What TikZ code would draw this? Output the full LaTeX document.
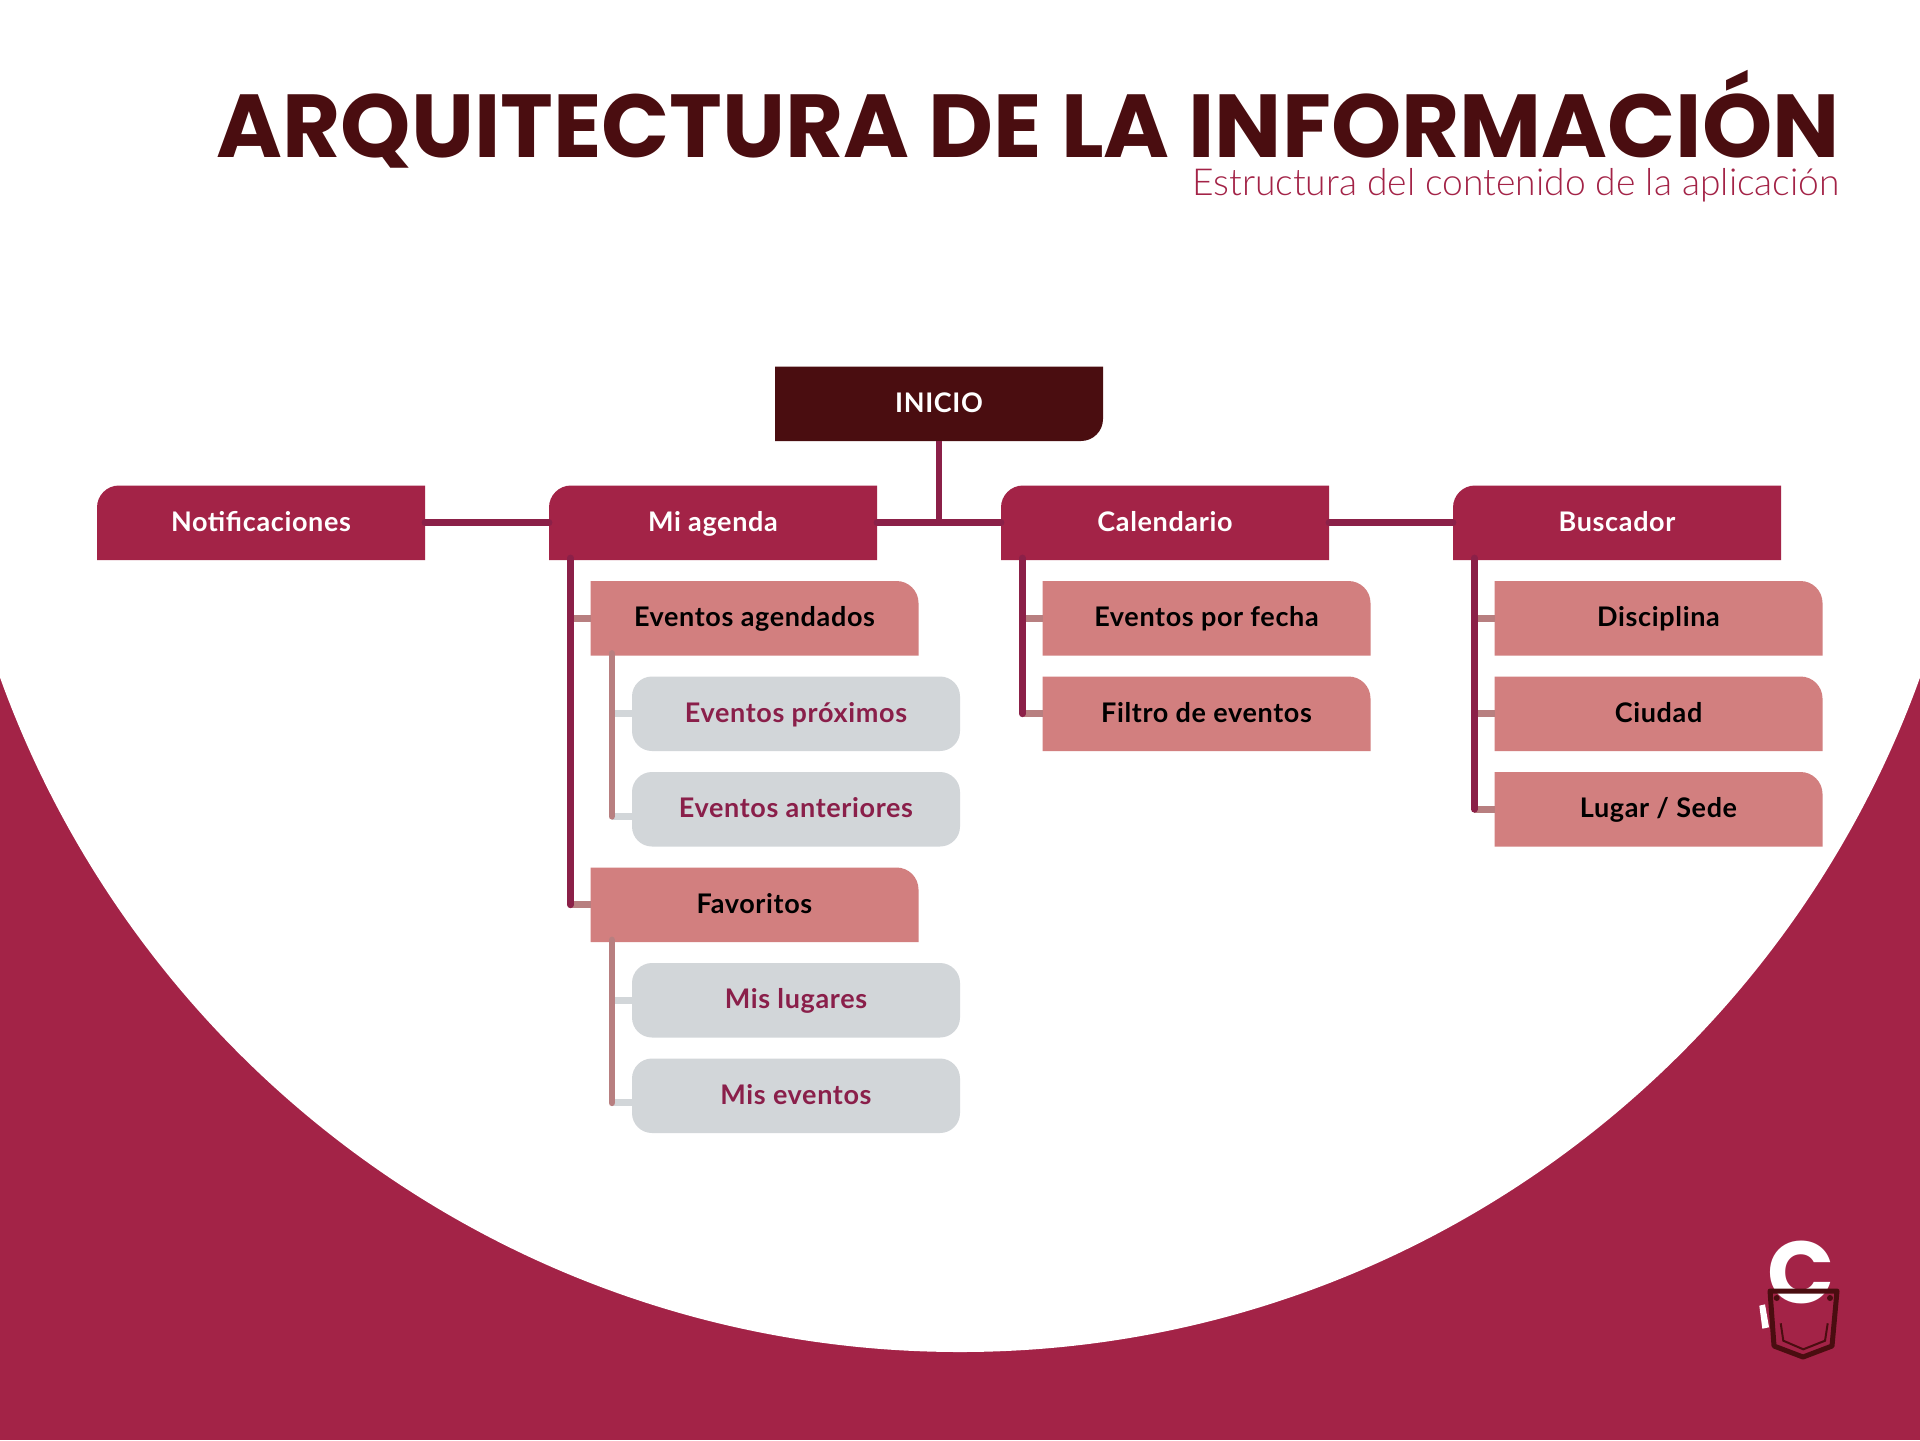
\documentclass[tikz,border=0pt]{standalone}
\usepackage{fontspec}
\setmainfont{Lato}[LetterSpace=2.4]
\newfontfamily\titlefont{Poppins}
\newfontfamily\subfont{Lato Light}
\usepackage{xcolor}
\usetikzlibrary{positioning,calc}
\definecolor{crimson}{HTML}{A32347}
\definecolor{wine}{HTML}{4A0D10}
\definecolor{rosebox}{HTML}{D27F7F}
\definecolor{greybox}{HTML}{D2D6D9}
\definecolor{linedark}{HTML}{8B2048}
\definecolor{linerose}{HTML}{B87F80}
\definecolor{greytext}{HTML}{8A1F4A}

\begin{document}
\begin{tikzpicture}[
  x=0.5pt, y=-0.5pt,
  base/.style={minimum width=164pt, minimum height=37.25pt, inner sep=0pt, outer sep=0pt,
               font=\fontsize{13.5}{15}\bfseries, text height=9pt, text depth=0.5pt},
  rootbox/.style={base, text=white, path picture={
      \fill[wine] (path picture bounding box.north west) -- (path picture bounding box.north east)
        [rounded corners=11pt] -- (path picture bounding box.south east)
        [sharp corners] -- (path picture bounding box.south west) -- cycle;}},
  mainbox/.style={base, text=white, path picture={
      \fill[crimson] (path picture bounding box.south west)
        [rounded corners=11pt] -- (path picture bounding box.north west)
        [sharp corners] -- (path picture bounding box.north east) -- (path picture bounding box.south east) -- cycle;}},
  subbox/.style={base, text=black, path picture={
      \fill[rosebox] (path picture bounding box.north west)
        [rounded corners=11pt] -- (path picture bounding box.north east)
        [sharp corners] -- (path picture bounding box.south east) -- (path picture bounding box.south west) -- cycle;}},
  leafbox/.style={base, text=greytext, fill=greybox, rounded corners=10pt},
  trunk/.style={draw=linedark, line width=3.4pt, line cap=round},
  subtrunk/.style={draw=linerose, line width=3.4pt, line cap=round},
  twig/.style={draw=linerose, line width=3.4pt},
  leaftwig/.style={draw=greybox, line width=3.4pt},
]
\useasboundingbox (0,0) rectangle (1920,1440);
% backdrop
\fill[crimson] (0,0) rectangle (1920,1440);
\fill[white] (960,332) circle (1020);
% heading
\node[anchor=base east, inner sep=0pt, text=wine, font=\titlefont\bfseries\fontsize{44.7}{50}\selectfont] (titulo) at (1840,157) {ARQUITECTURA DE LA INFORMACIÓN};
\node[anchor=base east, inner sep=0pt, text=crimson, font=\subfont\fontsize{18.6}{22}\selectfont] (subtitulo) at (1840,195) {Estructura del contenido de la aplicación};
% top levels
\node[rootbox] (inicio) at (939,403.75) {INICIO};
\node[mainbox] (notificaciones) at (261,522.75) {Notificaciones};
\node[mainbox, right=62pt of notificaciones] (agenda) {Mi agenda};
\node[mainbox, right=62pt of agenda] (calendario) {Calendario};
\node[mainbox, right=62pt of calendario] (buscador) {Buscador};
% Mi agenda
\node[subbox, below=10.5pt of agenda, xshift=20.75pt] (agendados) {Eventos agendados};
\node[leafbox, below=10.5pt of agendados, xshift=20.75pt] (proximos) {Eventos próximos};
\node[leafbox, below=10.5pt of proximos] (anteriores) {Eventos anteriores};
\node[subbox, below=10.5pt of anteriores, xshift=-20.75pt] (favoritos) {Favoritos};
\node[leafbox, below=10.5pt of favoritos, xshift=20.75pt] (lugares) {Mis lugares};
\node[leafbox, below=10.5pt of lugares] (miseventos) {Mis eventos};
% Calendario
\node[subbox, below=10.5pt of calendario, xshift=20.75pt] (porfecha) {Eventos por fecha};
\node[subbox, below=10.5pt of porfecha] (filtro) {Filtro de eventos};
% Buscador
\node[subbox, below=10.5pt of buscador, xshift=20.75pt] (disciplina) {Disciplina};
\node[subbox, below=10.5pt of disciplina] (ciudad) {Ciudad};
\node[subbox, below=10.5pt of ciudad] (sede) {Lugar / Sede};
% trunk heads
\coordinate (agendahead) at ([shift={(10.7pt,1pt)}]agenda.south west);
\coordinate (calendariohead) at ([shift={(10.7pt,1pt)}]calendario.south west);
\coordinate (buscadorhead) at ([shift={(10.7pt,1pt)}]buscador.south west);
\coordinate (agendadoshead) at ([shift={(10.7pt,1pt)}]agendados.south west);
\coordinate (favoritoshead) at ([shift={(10.7pt,1pt)}]favoritos.south west);
% connectors
\draw[trunk, line cap=butt] (inicio.south) -- (inicio.south |- agenda.east);
\draw[trunk] (notificaciones.east) -- (agenda.west);
\draw[trunk] (agenda.east) -- (calendario.west);
\draw[trunk] (calendario.east) -- (buscador.west);
\foreach \head/\leaf in {agendahead/agendados, agendahead/favoritos, calendariohead/porfecha,
    calendariohead/filtro, buscadorhead/disciplina, buscadorhead/ciudad, buscadorhead/sede}
  \draw[twig] (\head |- \leaf.west) -- (\leaf.west);
\draw[leaftwig] (agendadoshead |- proximos.west) -- (proximos.west);
\draw[leaftwig] ([yshift=-3.5pt]agendadoshead |- anteriores.west) -- ([yshift=-3.5pt]anteriores.west);
\draw[leaftwig] (favoritoshead |- lugares.west) -- (lugares.west);
\draw[leaftwig] ([yshift=-3.5pt]favoritoshead |- miseventos.west) -- ([yshift=-3.5pt]miseventos.west);
\draw[subtrunk] (agendadoshead) -- ([yshift=-3.5pt]agendadoshead |- anteriores.west);
\draw[subtrunk] (favoritoshead) -- ([yshift=-3.5pt]favoritoshead |- miseventos.west);
\draw[trunk] (agendahead) -- (agendahead |- favoritos.west);
\draw[trunk] (calendariohead) -- (calendariohead |- filtro.west);
\draw[trunk] (buscadorhead) -- (buscadorhead |- sede.west);
% pocket mark
\node[text=white, inner sep=0pt, anchor=base, font=\titlefont\bfseries\fontsize{44}{46}\selectfont] (letra) at (1801,1303) {C};
\fill[white] (1759.3,1305.7) -- (1765,1304.3) -- (1769,1327.3) -- (1762.3,1328.7) -- cycle;
\draw[wine, line width=2.5pt, line join=round] (1770,1291) -- (1837,1291) -- (1832,1346) -- (1803,1357) -- (1774,1346) -- cycle;
\draw[wine, line width=1pt] (1780.7,1323.3) -- (1783.3,1340.7) -- (1803.3,1349.3) -- (1825,1340.7) -- (1827.7,1323.3);
\fill[wine] (1776.7,1298) circle (3);
\fill[wine] (1830,1298) circle (3);
\end{tikzpicture}
\end{document}
